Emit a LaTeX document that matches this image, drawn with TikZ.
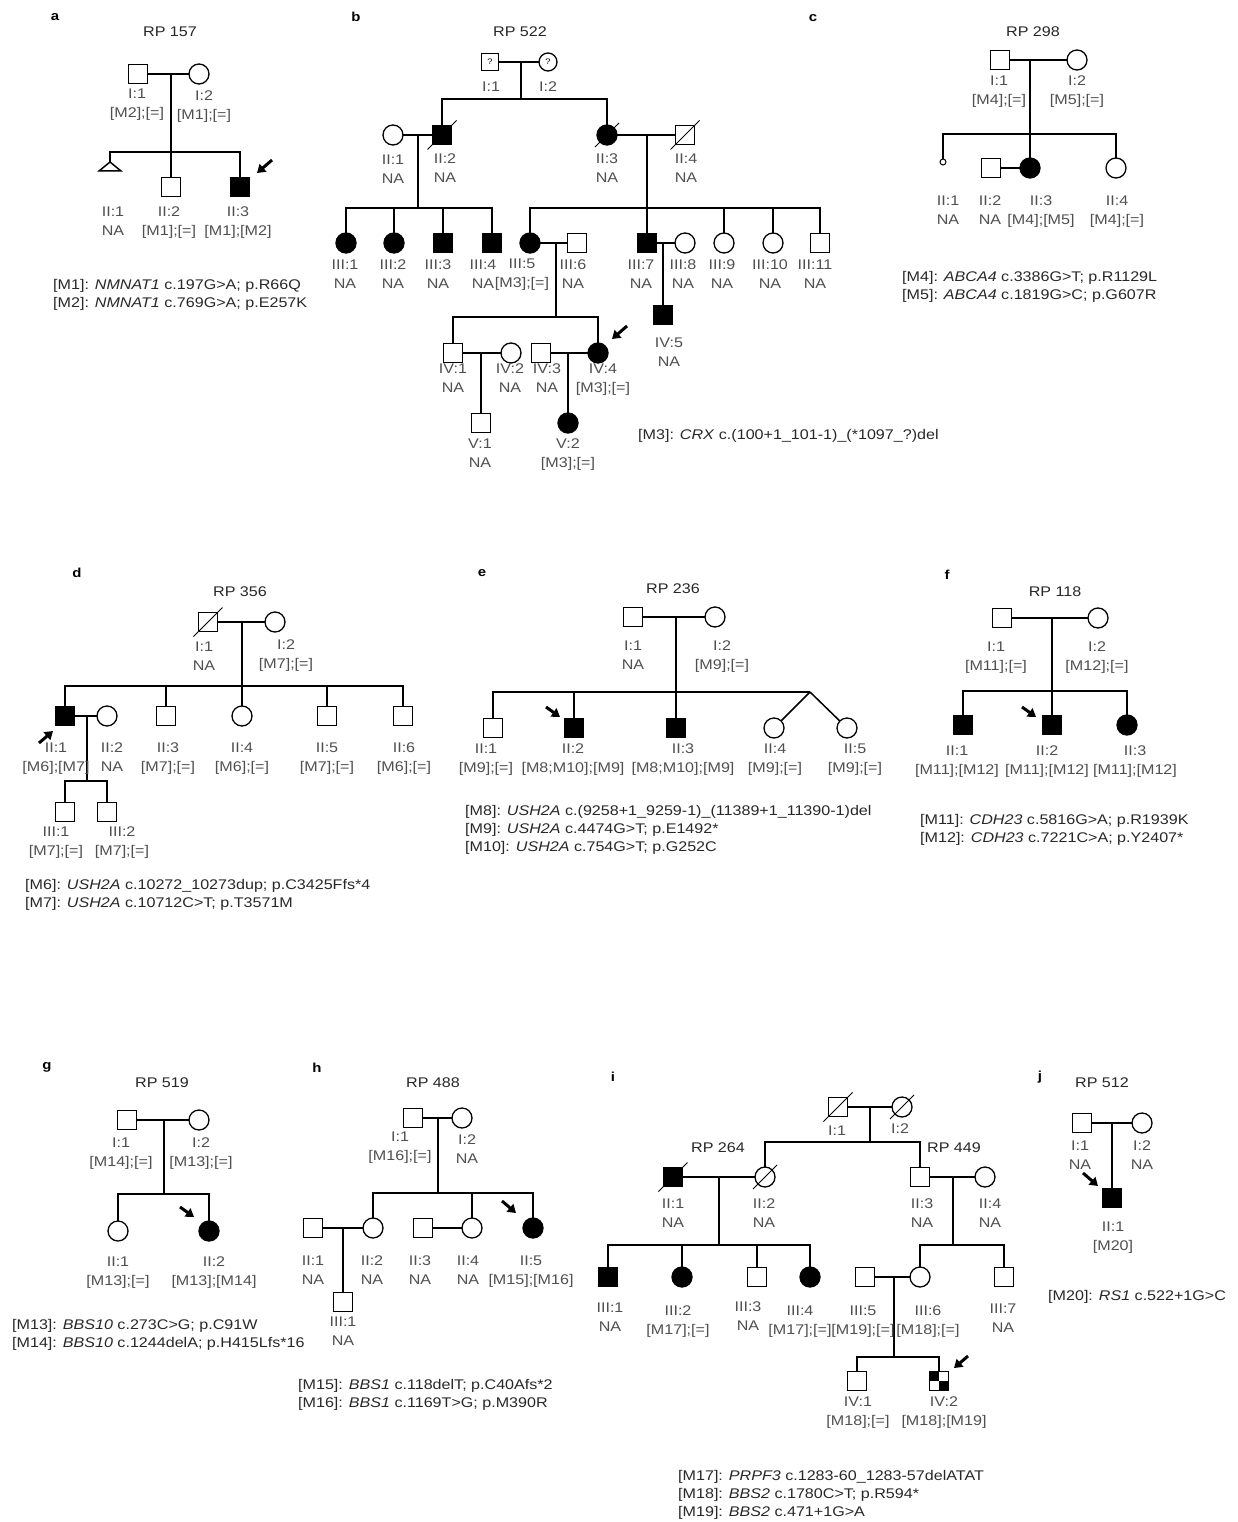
\documentclass[tikz,border=0pt]{standalone}
\usepackage{fontspec}
\setmainfont{Liberation Sans}[FakeStretch=1.15]
\usetikzlibrary{arrows.meta}
\definecolor{pedgray}{RGB}{80,80,80}
\definecolor{keygray}{RGB}{40,40,40}
\newcommand{\deceased}[1]{\draw[line width=1pt] ([shift={(-5,5)}]#1.south west) -- ([shift={(5,-5)}]#1.north east);}

\begin{document}
\begin{tikzpicture}[
    x=1pt, y=-1pt,
    sym/.style={draw, line width=1.3pt, inner sep=0pt, outer sep=0pt},
    male/.style={sym, rectangle, minimum size=19pt},
    female/.style={sym, circle, minimum size=20pt},
    aff/.style={fill=black},
    ped/.style={line width=1.5pt},
    lab/.style={anchor=north, yshift=6pt, align=center, inner sep=0pt, text=pedgray, font=\fontsize{14}{19}\selectfont},
    key/.style={anchor=north west, yshift=6pt, align=left, inner sep=0pt, text=keygray, font=\fontsize{14}{18}\selectfont},
    title/.style={inner sep=0pt, text=keygray, font=\fontsize{14}{14}\selectfont},
    panel/.style={inner sep=0pt, font=\bfseries\fontsize{13}{13}\selectfont},
    proband/.style={line width=3pt, -{Triangle[length=8pt, width=10pt]}}
]
\path[use as bounding box, fill=white] (0,0) rectangle (1237,1522);

% === a: RP 157 ===
\begin{scope}
    \node[panel] (alab) at (55,17) {a};
    \node[title] (atitle) at (170,32) {RP 157};

    \node[male] (a11) at (138,74) {};
    \node[female] (a12) at (199,74) {};
    \coordinate (am1) at (171,74);
    \coordinate (as1) at (171,152);
    \coordinate (a21) at (110,162);
    \node[male] (a22) at (171,187) {};
    \node[male, aff] (a23) at (240,187) {};

    \draw[ped] (a11) -- (a12);
    \draw[ped] (am1) -- (as1);
    \draw[ped] (a21) -- (a21 |- as1) -- (a23 |- as1) -- (a23);
    \draw[ped] (a22) -- (a22 |- as1);
    \draw[ped] (a21) -- ++(-11,9) -- ++(22,0) -- cycle;
    \draw[proband] (a23) ++(32,-27) -- ++(-15,13);

    \node[lab] (a11t) at (137,95) {I:1\\{}[M2];[=]};
    \node[lab] (a12t) at (204,97) {I:2\\{}[M1];[=]};
    \node[lab] (a21t) at (113,213) {II:1\\NA};
    \node[lab] (a22t) at (169,213) {II:2\\{}[M1];[=]};
    \node[lab] (a23t) at (238,213) {II:3\\{}[M1];[M2]};

    \node[key] (akey) at (53,285) {[M1]: \textit{NMNAT1} c.197G>A; p.R66Q\\{}[M2]: \textit{NMNAT1} c.769G>A; p.E257K};
\end{scope}

% === b: RP 522 ===
\begin{scope}
    \node[panel] (blab) at (356,17) {b};
    \node[title] (btitle) at (520,32) {RP 522};

    \node[male, minimum size=17pt, font=\fontsize{8}{8}\selectfont] (b11) at (490,62) {?};
    \node[female, minimum size=18pt, font=\fontsize{8}{8}\selectfont] (b12) at (548,62) {?};
    \coordinate (bm1) at (521,62);
    \coordinate (bs1) at (521,99);

    \node[female] (b21) at (393,135) {};
    \node[male, aff] (b22) at (442,135) {};
    \node[female, aff] (b23) at (607,135) {};
    \node[male] (b24) at (685,135) {};
    \coordinate (bm2) at (418,135);
    \coordinate (bs2) at (418,208);
    \coordinate (bm3) at (647,135);
    \coordinate (bs3) at (647,208);

    \draw[ped] (b11) -- (b12);
    \draw[ped] (bm1) -- (bs1);
    \draw[ped] (b22) -- (b22 |- bs1) -- (b23 |- bs1) -- (b23);
    \draw[ped] (b21) -- (b22);
    \draw[ped] (b23) -- (b24);
    \draw[ped] (bm2) -- (bs2);
    \draw[ped] (bm3) -- (bs3);
    \deceased{b22}
    \deceased{b23}
    \deceased{b24}

    \node[female, aff] (b31) at (346,243) {};
    \node[female, aff] (b32) at (394,243) {};
    \node[male, aff] (b33) at (443,243) {};
    \node[male, aff] (b34) at (492,243) {};
    \node[female, aff] (b35) at (530,243) {};
    \node[male] (b36) at (577,243) {};
    \node[male, aff] (b37) at (647,243) {};
    \node[female] (b38) at (685,243) {};
    \node[female] (b39) at (724,243) {};
    \node[female] (b310) at (773,243) {};
    \node[male] (b311) at (820,243) {};
    \coordinate (bm4) at (556,243);
    \coordinate (bs4) at (556,317);
    \coordinate (bm5) at (663,243);

    \draw[ped] (b31) -- (b31 |- bs2) -- (b34 |- bs2) -- (b34);
    \draw[ped] (b32) -- (b32 |- bs2);
    \draw[ped] (b33) -- (b33 |- bs2);
    \draw[ped] (b35) -- (b35 |- bs3) -- (b311 |- bs3) -- (b311);
    \draw[ped] (b37) -- (b37 |- bs3);
    \draw[ped] (b39) -- (b39 |- bs3);
    \draw[ped] (b310) -- (b310 |- bs3);
    \draw[ped] (b35) -- (b36);
    \draw[ped] (b37) -- (b38);
    \draw[ped] (bm4) -- (bs4);

    \node[male] (b41) at (453,353) {};
    \node[female] (b42) at (511,353) {};
    \node[male] (b43) at (541,353) {};
    \node[female, aff] (b44) at (598,353) {};
    \node[male, aff] (b45) at (663,315) {};
    \coordinate (bm6) at (481,353);
    \coordinate (bm7) at (568,353);
    \node[male] (b51) at (481,423) {};
    \node[female, aff] (b52) at (568,423) {};

    \draw[ped] (bm5) -- (b45);
    \draw[ped] (b41) -- (b41 |- bs4) -- (b44 |- bs4) -- (b44);
    \draw[ped] (b41) -- (b42);
    \draw[ped] (b43) -- (b44);
    \draw[ped] (bm6) -- (b51);
    \draw[ped] (bm7) -- (b52);
    \draw[proband] (b44) ++(29,-27) -- ++(-15,13);

    \node[lab] (b11t) at (491,88) {I:1};
    \node[lab] (b12t) at (548,88) {I:2};
    \node[lab] (b21t) at (393,161) {II:1\\NA};
    \node[lab] (b22t) at (445,160) {II:2\\NA};
    \node[lab] (b23t) at (607,160) {II:3\\NA};
    \node[lab] (b24t) at (686,160) {II:4\\NA};
    \node[lab] (b31t) at (345,266) {III:1\\NA};
    \node[lab] (b32t) at (393,266) {III:2\\NA};
    \node[lab] (b33t) at (438,266) {III:3\\NA};
    \node[lab] (b34t) at (483,266) {III:4\\NA};
    \node[lab] (b35t) at (522,265) {III:5\\{}[M3];[=]};
    \node[lab] (b36t) at (573,266) {III:6\\NA};
    \node[lab] (b37t) at (641,266) {III:7\\NA};
    \node[lab] (b38t) at (683,266) {III:8\\NA};
    \node[lab] (b39t) at (722,266) {III:9\\NA};
    \node[lab] (b310t) at (770,266) {III:10\\NA};
    \node[lab] (b311t) at (815,266) {III:11\\NA};
    \node[lab] (b41t) at (453,370) {IV:1\\NA};
    \node[lab] (b42t) at (510,370) {IV:2\\NA};
    \node[lab] (b43t) at (547,370) {IV:3\\NA};
    \node[lab] (b44t) at (603,370) {IV:4\\{}[M3];[=]};
    \node[lab] (b45t) at (669,344) {IV:5\\NA};
    \node[lab] (b51t) at (480,445) {V:1\\NA};
    \node[lab] (b52t) at (568,445) {V:2\\{}[M3];[=]};

    \node[key] (bkey) at (638,435) {[M3]: \textit{CRX} c.(100+1\_101-1)\_(*1097\_?)del};
\end{scope}

% === c: RP 298 ===
\begin{scope}
    \node[panel] (clab) at (813,18) {c};
    \node[title] (ctitle) at (1033,32) {RP 298};

    \node[male] (c11) at (1000,60) {};
    \node[female] (c12) at (1077,60) {};
    \coordinate (cm1) at (1030,60);
    \coordinate (cs1) at (1030,134);
    \node[sym, circle, minimum size=6pt, line width=1pt] (c21) at (943,162) {};
    \node[male] (c22) at (991,168) {};
    \node[female, aff] (c23) at (1030,168) {};
    \node[female] (c24) at (1116,168) {};

    \draw[ped] (c11) -- (c12);
    \draw[ped] (cm1) -- (cs1);
    \draw[ped] (c21) -- (c21 |- cs1) -- (c24 |- cs1) -- (c24);
    \draw[ped] (c23) -- (c23 |- cs1);
    \draw[ped] (c22) -- (c23);

    \node[lab] (c11t) at (999,82) {I:1\\{}[M4];[=]};
    \node[lab] (c12t) at (1077,82) {I:2\\{}[M5];[=]};
    \node[lab] (c21t) at (948,202) {II:1\\NA};
    \node[lab] (c22t) at (990,202) {II:2\\NA};
    \node[lab] (c23t) at (1041,202) {II:3\\{}[M4];[M5]};
    \node[lab] (c24t) at (1117,202) {II:4\\{}[M4];[=]};

    \node[key] (ckey) at (902,277) {[M4]: \textit{ABCA4} c.3386G>T; p.R1129L\\{}[M5]: \textit{ABCA4} c.1819G>C; p.G607R};
\end{scope}

% === d: RP 356 ===
\begin{scope}
    \node[panel] (dlab) at (77,573) {d};
    \node[title] (dtitle) at (240,592) {RP 356};

    \node[male] (d11) at (208,622) {};
    \node[female] (d12) at (275,622) {};
    \coordinate (dm1) at (242,622);
    \coordinate (ds1) at (242,686);
    \node[male, aff] (d21) at (65,716) {};
    \node[female] (d22) at (107,716) {};
    \node[male] (d23) at (166,716) {};
    \node[female] (d24) at (242,716) {};
    \node[male] (d25) at (327,716) {};
    \node[male] (d26) at (403,716) {};
    \coordinate (dm2) at (87,716);
    \coordinate (ds2) at (87,781);
    \node[male] (d31) at (65,812) {};
    \node[male] (d32) at (107,812) {};

    \draw[ped] (d11) -- (d12);
    \deceased{d11}
    \draw[ped] (dm1) -- (ds1);
    \draw[ped] (d21) -- (d21 |- ds1) -- (d26 |- ds1) -- (d26);
    \draw[ped] (d23) -- (d23 |- ds1);
    \draw[ped] (d24) -- (d24 |- ds1);
    \draw[ped] (d25) -- (d25 |- ds1);
    \draw[ped] (d21) -- (d22);
    \draw[ped] (dm2) -- (ds2);
    \draw[ped] (d31) -- (d31 |- ds2) -- (d32 |- ds2) -- (d32);
    \draw[proband] (d21) ++(-26,27) -- ++(14,-12);

    \node[lab] (d11t) at (204,648) {I:1\\NA};
    \node[lab] (d12t) at (286,646) {I:2\\{}[M7];[=]};
    \node[lab] (d21t) at (56,749) {II:1\\{}[M6];[M7]};
    \node[lab] (d22t) at (112,749) {II:2\\NA};
    \node[lab] (d23t) at (168,749) {II:3\\{}[M7];[=]};
    \node[lab] (d24t) at (242,749) {II:4\\{}[M6];[=]};
    \node[lab] (d25t) at (327,749) {II:5\\{}[M7];[=]};
    \node[lab] (d26t) at (404,749) {II:6\\{}[M6];[=]};
    \node[lab] (d31t) at (56,833) {III:1\\{}[M7];[=]};
    \node[lab] (d32t) at (122,833) {III:2\\{}[M7];[=]};

    \node[key] (dkey) at (25,885) {[M6]: \textit{USH2A} c.10272\_10273dup; p.C3425Ffs*4\\{}[M7]: \textit{USH2A} c.10712C>T; p.T3571M};
\end{scope}

% === e: RP 236 ===
\begin{scope}
    \node[panel] (elab) at (482,573) {e};
    \node[title] (etitle) at (673,589) {RP 236};

    \node[male] (e11) at (633,617) {};
    \node[female] (e12) at (715,617) {};
    \coordinate (em1) at (676,617);
    \coordinate (es1) at (676,692);
    \node[male] (e21) at (493,728) {};
    \node[male, aff] (e22) at (574,728) {};
    \node[male, aff] (e23) at (676,728) {};
    \node[female] (e24) at (774,728) {};
    \node[female] (e25) at (847,728) {};
    \coordinate (et) at (810,692);

    \draw[ped] (e11) -- (e12);
    \draw[ped] (em1) -- (es1);
    \draw[ped] (e21) -- (e21 |- es1) -- (et);
    \draw[ped] (e22) -- (e22 |- es1);
    \draw[ped] (e23) -- (e23 |- es1);
    \draw[ped] (et) -- (e24);
    \draw[ped] (et) -- (e25);
    \draw[proband] (e22) ++(-28,-21) -- ++(14,10);

    \node[lab] (e11t) at (633,647) {I:1\\NA};
    \node[lab] (e12t) at (722,647) {I:2\\{}[M9];[=]};
    \node[lab] (e21t) at (486,750) {II:1\\{}[M9];[=]};
    \node[lab] (e22t) at (573,750) {II:2\\{}[M8;M10];[M9]};
    \node[lab] (e23t) at (683,750) {II:3\\{}[M8;M10];[M9]};
    \node[lab] (e24t) at (775,750) {II:4\\{}[M9];[=]};
    \node[lab] (e25t) at (855,750) {II:5\\{}[M9];[=]};

    \node[key] (ekey) at (465,811) {[M8]: \textit{USH2A} c.(9258+1\_9259-1)\_(11389+1\_11390-1)del\\{}[M9]: \textit{USH2A} c.4474G>T; p.E1492*\\{}[M10]: \textit{USH2A} c.754G>T; p.G252C};
\end{scope}

% === f: RP 118 ===
\begin{scope}
    \node[panel] (flab) at (947,575) {f};
    \node[title] (ftitle) at (1055,592) {RP 118};

    \node[male] (f11) at (1002,618) {};
    \node[female] (f12) at (1098,618) {};
    \coordinate (fm1) at (1052,618);
    \coordinate (fs1) at (1052,691);
    \node[male, aff] (f21) at (963,725) {};
    \node[male, aff] (f22) at (1052,725) {};
    \node[female, aff] (f23) at (1127,725) {};

    \draw[ped] (f11) -- (f12);
    \draw[ped] (fm1) -- (fs1);
    \draw[ped] (f21) -- (f21 |- fs1) -- (f23 |- fs1) -- (f23);
    \draw[ped] (f22) -- (f22 |- fs1);
    \draw[proband] (f22) ++(-30,-18) -- ++(14,10);

    \node[lab] (f11t) at (996,648) {I:1\\{}[M11];[=]};
    \node[lab] (f12t) at (1097,648) {I:2\\{}[M12];[=]};
    \node[lab] (f21t) at (957,752) {II:1\\{}[M11];[M12]};
    \node[lab] (f22t) at (1047,752) {II:2\\{}[M11];[M12]};
    \node[lab] (f23t) at (1135,752) {II:3\\{}[M11];[M12]};

    \node[key] (fkey) at (920,820) {[M11]: \textit{CDH23} c.5816G>A; p.R1939K\\{}[M12]: \textit{CDH23} c.7221C>A; p.Y2407*};
\end{scope}

% === g: RP 519 ===
\begin{scope}
    \node[panel] (glab) at (47,1067) {g};
    \node[title] (gtitle) at (162,1083) {RP 519};

    \node[male] (g11) at (127,1120) {};
    \node[female] (g12) at (199,1120) {};
    \coordinate (gm1) at (164,1120);
    \coordinate (gs1) at (164,1194);
    \node[female] (g21) at (118,1231) {};
    \node[female, aff] (g22) at (209,1231) {};

    \draw[ped] (g11) -- (g12);
    \draw[ped] (gm1) -- (gs1);
    \draw[ped] (g21) -- (g21 |- gs1) -- (g22 |- gs1) -- (g22);
    \draw[proband] (g22) ++(-29,-24) -- ++(14,10);

    \node[lab] (g11t) at (121,1144) {I:1\\{}[M14];[=]};
    \node[lab] (g12t) at (201,1144) {I:2\\{}[M13];[=]};
    \node[lab] (g21t) at (118,1263) {II:1\\{}[M13];[=]};
    \node[lab] (g22t) at (214,1263) {II:2\\{}[M13];[M14]};

    \node[key] (gkey) at (12,1325) {[M13]: \textit{BBS10} c.273C>G; p.C91W\\{}[M14]: \textit{BBS10} c.1244delA; p.H415Lfs*16};
\end{scope}

% === h: RP 488 ===
\begin{scope}
    \node[panel] (hlab) at (317,1068) {h};
    \node[title] (htitle) at (433,1083) {RP 488};

    \node[male] (h11) at (413,1118) {};
    \node[female] (h12) at (462,1118) {};
    \coordinate (hm1) at (438,1118);
    \coordinate (hs1) at (438,1193);
    \node[male] (h21) at (313,1228) {};
    \node[female] (h22) at (373,1228) {};
    \node[male] (h23) at (423,1228) {};
    \node[female] (h24) at (472,1228) {};
    \node[female, aff] (h25) at (533,1228) {};
    \coordinate (hm2) at (343,1228);
    \node[male] (h31) at (343,1302) {};

    \draw[ped] (h11) -- (h12);
    \draw[ped] (hm1) -- (hs1);
    \draw[ped] (h22) -- (h22 |- hs1) -- (h25 |- hs1) -- (h25);
    \draw[ped] (h24) -- (h24 |- hs1);
    \draw[ped] (h21) -- (h22);
    \draw[ped] (h23) -- (h24);
    \draw[ped] (hm2) -- (h31);
    \draw[proband] (h25) ++(-31,-27) -- ++(14,12);

    \node[lab] (h11t) at (400,1138) {I:1\\{}[M16];[=]};
    \node[lab] (h12t) at (467,1141) {I:2\\NA};
    \node[lab] (h21t) at (313,1262) {II:1\\NA};
    \node[lab] (h22t) at (372,1262) {II:2\\NA};
    \node[lab] (h23t) at (420,1262) {II:3\\NA};
    \node[lab] (h24t) at (468,1262) {II:4\\NA};
    \node[lab] (h25t) at (531,1262) {II:5\\{}[M15];[M16]};
    \node[lab] (h31t) at (343,1323) {III:1\\NA};

    \node[key] (hkey) at (298,1385) {[M15]: \textit{BBS1} c.118delT; p.C40Afs*2\\{}[M16]: \textit{BBS1} c.1169T>G; p.M390R};
\end{scope}

% === i: RP 264 / RP 449 ===
\begin{scope}
    \node[panel] (ilab) at (613,1077) {i};
    \node[title] (ititle1) at (718,1148) {RP 264};
    \node[title] (ititle2) at (954,1148) {RP 449};

    \node[male] (i11) at (838,1107) {};
    \node[female] (i12) at (902,1107) {};
    \coordinate (im1) at (870,1107);
    \coordinate (is1) at (870,1142);
    \node[male, aff] (i21) at (673,1177) {};
    \node[female] (i22) at (765,1177) {};
    \node[male] (i23) at (920,1177) {};
    \node[female] (i24) at (985,1177) {};
    \coordinate (im2) at (719,1177);
    \coordinate (is2) at (719,1245);
    \coordinate (im3) at (953,1177);
    \coordinate (is3) at (953,1245);

    \draw[ped] (i11) -- (i12);
    \draw[ped] (im1) -- (is1);
    \draw[ped] (i22) -- (i22 |- is1) -- (i23 |- is1) -- (i23);
    \draw[ped] (i21) -- (i22);
    \draw[ped] (i23) -- (i24);
    \draw[ped] (im2) -- (is2);
    \draw[ped] (im3) -- (is3);
    \deceased{i11}
    \deceased{i12}
    \deceased{i21}
    \deceased{i22}

    \node[male, aff] (i31) at (608,1277) {};
    \node[female, aff] (i32) at (682,1277) {};
    \node[male] (i33) at (757,1277) {};
    \node[female, aff] (i34) at (810,1277) {};
    \node[male] (i35) at (865,1277) {};
    \node[female] (i36) at (920,1277) {};
    \node[male] (i37) at (1004,1277) {};
    \coordinate (im4) at (894,1277);
    \coordinate (is4) at (894,1357);
    \node[male] (i41) at (857,1381) {};
    \node[male] (i42) at (939,1381) {};
    \fill (i42.north west) rectangle (i42.center);
    \fill (i42.center) rectangle (i42.south east);

    \draw[ped] (i31) -- (i31 |- is2) -- (i34 |- is2) -- (i34);
    \draw[ped] (i32) -- (i32 |- is2);
    \draw[ped] (i33) -- (i33 |- is2);
    \draw[ped] (i36) -- (i36 |- is3) -- (i37 |- is3) -- (i37);
    \draw[ped] (i35) -- (i36);
    \draw[ped] (im4) -- (is4);
    \draw[ped] (i41) -- (i41 |- is4) -- (i42 |- is4) -- (i42);
    \draw[proband] (i42) ++(29,-25) -- ++(-14,12);

    \node[lab] (i11t) at (837,1132) {I:1};
    \node[lab] (i12t) at (900,1130) {I:2};
    \node[lab] (i21t) at (673,1205) {II:1\\NA};
    \node[lab] (i22t) at (764,1205) {II:2\\NA};
    \node[lab] (i23t) at (922,1205) {II:3\\NA};
    \node[lab] (i24t) at (990,1205) {II:4\\NA};
    \node[lab] (i31t) at (610,1309) {III:1\\NA};
    \node[lab] (i32t) at (678,1312) {III:2\\{}[M17];[=]};
    \node[lab] (i33t) at (748,1308) {III:3\\NA};
    \node[lab] (i34t) at (800,1312) {III:4\\{}[M17];[=]};
    \node[lab] (i35t) at (863,1312) {III:5\\{}[M19];[=]};
    \node[lab] (i36t) at (928,1312) {III:6\\{}[M18];[=]};
    \node[lab] (i37t) at (1003,1310) {III:7\\NA};
    \node[lab] (i41t) at (858,1403) {IV:1\\{}[M18];[=]};
    \node[lab] (i42t) at (944,1403) {IV:2\\{}[M18];[M19]};

    \node[key] (ikey) at (678,1476) {[M17]: \textit{PRPF3} c.1283-60\_1283-57delATAT\\{}[M18]: \textit{BBS2} c.1780C>T; p.R594*\\{}[M19]: \textit{BBS2} c.471+1G>A};
\end{scope}

% === j: RP 512 ===
\begin{scope}
    \node[panel] (jlab) at (1040,1077) {j};
    \node[title] (jtitle) at (1102,1083) {RP 512};

    \node[male] (j11) at (1082,1123) {};
    \node[female] (j12) at (1142,1123) {};
    \coordinate (jm1) at (1112,1123);
    \node[male, aff] (j21) at (1112,1198) {};

    \draw[ped] (j11) -- (j12);
    \draw[ped] (jm1) -- (j21);
    \draw[proband] (j21) ++(-29,-25) -- ++(15,13);

    \node[lab] (j11t) at (1080,1147) {I:1\\NA};
    \node[lab] (j12t) at (1142,1147) {I:2\\NA};
    \node[lab] (j21t) at (1113,1228) {II:1\\{}[M20]};

    \node[key] (jkey) at (1048,1296) {[M20]: \textit{RS1} c.522+1G>C};
\end{scope}

\end{tikzpicture}
\end{document}
